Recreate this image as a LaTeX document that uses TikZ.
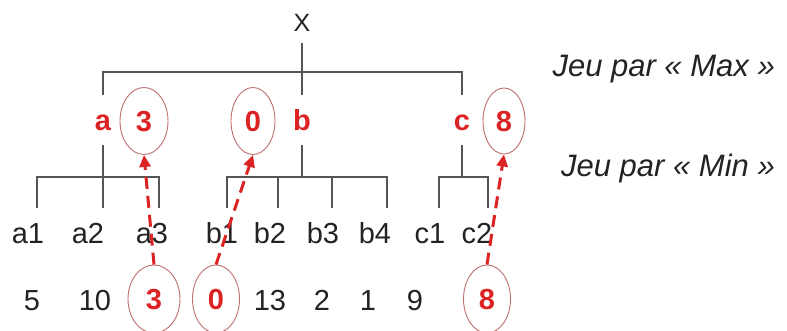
\documentclass[tikz,border=0pt]{standalone}
\usepackage{fontspec}
\setmainfont{Liberation Sans}
\usetikzlibrary{shapes.geometric,arrows.meta}
\definecolor{redtxt}{RGB}{220,35,35}
\definecolor{ellc}{RGB}{190,110,110}
\definecolor{linec}{RGB}{85,85,85}
\definecolor{txtc}{RGB}{35,35,35}
\begin{document}
\begin{tikzpicture}[x=1pt,y=-1pt,
  lbl/.style={font=\fontsize{29}{34}\selectfont\bfseries, text=redtxt, inner sep=0, text height=21pt, text depth=0pt, minimum height=50pt},
  leaf/.style={font=\fontsize{29}{34}\selectfont, text=txtc, inner sep=0, text height=21pt, text depth=0pt, minimum height=50pt},
  val/.style={font=\fontsize{29}{34}\selectfont, text=txtc, inner sep=0, text height=21pt, text depth=0pt},
  ell/.style={draw=ellc, line width=0.9pt, ellipse, inner sep=0, font=\fontsize{29}{34}\selectfont\bfseries, text=redtxt, text height=21pt, text depth=0pt},
  tree/.style={draw=linec, line width=1.3pt},
  back/.style={draw=redtxt, line width=3pt, dash pattern=on 12pt off 7pt, -{Triangle[length=12pt,width=11pt]}},
  side/.style={font=\fontsize{31}{36}\selectfont\itshape, text=txtc, inner sep=0, anchor=base east}
]
\useasboundingbox (0,0) rectangle (787,331);

% root and first level
\node[leaf, font=\fontsize{25}{30}\selectfont, text height=18pt, minimum height=40pt] (X) at (302,23) {X};
\node[lbl] (a) at (103,120) {a};
\node[lbl] (b) at (302,120) {b};
\node[lbl] (c) at (462,120) {c};
\coordinate (lvl1) at (0,72);
\coordinate (lvl2) at (0,177);

\draw[tree] (X.south) -- (b.north);
\draw[tree] (a.north) |- (c.north |- lvl1) -- (c.north);

% leaves
\node[leaf] (a1) at (28,233) {a1};
\node[leaf] (a2) at (88,233) {a2};
\node[leaf] (a3) at (152,233) {a3};
\node[leaf] (b1) at (222,233) {b1};
\node[leaf] (b2) at (270,233) {b2};
\node[leaf] (b3) at (323,233) {b3};
\node[leaf] (b4) at (375,233) {b4};
\node[leaf] (c1) at (430,233) {c1};
\node[leaf] (c2) at (477,233) {c2};

% second level connectors
\draw[tree] (a.south) -- (a2.north -| a.south);
\draw[tree] ([xshift=9pt]a1.north) |- ([xshift=7pt]a3.north |- lvl2) -- ([xshift=7pt]a3.north);
\draw[tree] (b.south) -- (b.south |- lvl2);
\draw[tree] ([xshift=5pt]b1.north) |- ([xshift=12pt]b4.north |- lvl2) -- ([xshift=12pt]b4.north);
\draw[tree] ([xshift=8pt]b2.north) -- ([xshift=8pt]b2.north |- lvl2);
\draw[tree] ([xshift=9pt]b3.north) -- ([xshift=9pt]b3.north |- lvl2);
\draw[tree] (c.south) -- (c.south |- lvl2);
\draw[tree] ([xshift=9pt]c1.north) |- ([xshift=11pt]c2.north |- lvl2) -- ([xshift=11pt]c2.north);

% values
\node[val] (v1) at (32,300) {5};
\node[val] (v2) at (95,300) {10};
\node[ell, minimum width=52pt, minimum height=68pt] (v3) at (154,299) {3};
\node[ell, minimum width=47pt, minimum height=68pt] (v4) at (216,299) {0};
\node[val] (v5) at (270,300) {13};
\node[val] (v6) at (322,300) {2};
\node[val] (v7) at (368,300) {1};
\node[val] (v8) at (415,300) {9};
\node[ell, minimum width=47pt, minimum height=68pt] (v9) at (487,299) {8};

% backed-up values
\node[ell, minimum width=48pt, minimum height=67pt] (ta) at (144,121) {3};
\node[ell, minimum width=44pt, minimum height=67pt] (tb) at (253,121) {0};
\node[ell, minimum width=42pt, minimum height=66pt] (tc) at (504,121) {8};

\draw[back] (v3.north) -- (ta.south);
\draw[back] (v4.north) -- (tb.south);
\draw[back] (v9.north) -- (tc.south);

% side texts
\node[side] (jmax) at (775,77) {Jeu par « Max »};
\node[side] (jmin) at (775,177) {Jeu par « Min »};
\end{tikzpicture}
\end{document}
